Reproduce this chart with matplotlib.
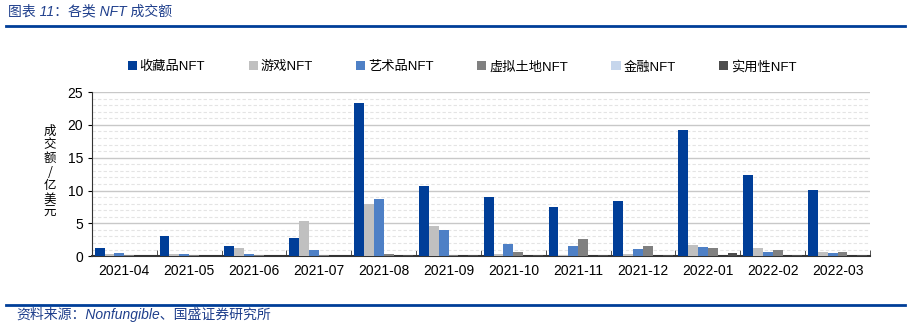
import numpy as np
import matplotlib.pyplot as plt
from matplotlib.lines import Line2D

plt.rcParams['font.family'] = ['Liberation Sans', 'Noto Sans CJK SC', 'DejaVu Sans']

# Monthly NFT trading volume by category (100M USD)
months = ["2021-04", "2021-05", "2021-06", "2021-07", "2021-08", "2021-09",
          "2021-10", "2021-11", "2021-12", "2022-01", "2022-02", "2022-03"]
collectibles = [1.2, 3.1, 1.5, 2.7, 23.3, 10.7, 9.0, 7.5, 8.4, 19.2, 12.4, 10.1]
games = [0.3, 0.3, 1.2, 5.4, 7.9, 4.6, 0.4, 0.2, 0.3, 1.7, 1.2, 0.6]
art = [0.5, 0.35, 0.3, 0.9, 8.7, 4.0, 1.8, 1.6, 1.1, 1.4, 0.65, 0.5]
land = [0.2, 0.1, 0.1, 0.1, 0.3, 0.2, 0.6, 2.6, 1.6, 1.2, 0.9, 0.6]
finance = [0.0, 0.0, 0.0, 0.0, 0.0, 0.0, 0.0, 0.0, 0.0, 0.05, 0.0, 0.0]
utility = [0.05, 0.05, 0.05, 0.05, 0.1, 0.1, 0.1, 0.1, 0.1, 0.5, 0.2, 0.1]

series = [
    ("收藏品NFT", collectibles, "#003E98"),
    ("游戏NFT", games, "#C0C0C0"),
    ("艺术品NFT", art, "#4E80C6"),
    ("虚拟土地NFT", land, "#808080"),
    ("金融NFT", finance, "#C6D6EC"),
    ("实用性NFT", utility, "#4D4D4D"),
]

fig = plt.figure(figsize=(9.1, 3.23), dpi=100)
ax = fig.add_axes([0.101, 0.207, 0.855, 0.508])

x = np.arange(len(months))
n = len(series)
w = 0.152
for i, (name, vals, col) in enumerate(series):
    ax.bar(x + (i - (n - 1) / 2) * w, vals, width=w, color=col, label=name, zorder=3)

ax.set_xlim(-0.5, len(months) - 0.5)
ax.set_ylim(0, 25)
ax.set_yticks(range(0, 26, 5))
ax.set_yticks(range(0, 26, 1), minor=True)
ax.set_xticks(x)
ax.set_xticklabels(months, fontsize=10)
ax.tick_params(axis='y', labelsize=10, length=3, which='major')
ax.tick_params(axis='y', which='minor', length=0)
ax.tick_params(axis='x', length=0, pad=6)
# group separators on x axis
ax.set_xticks(np.arange(-0.5, len(months), 1), minor=True)
ax.tick_params(axis='x', which='minor', direction='in', length=4, color='#333333')

ax.grid(axis='y', which='major', color='#C8C8C8', lw=1, zorder=0)
ax.grid(axis='y', which='minor', color='#E4E4E4', lw=0.8, ls=(0, (3, 2)), zorder=0)
ax.spines['right'].set_visible(False)
ax.spines['top'].set_visible(False)
ax.spines['left'].set_color('#333333')
ax.spines['bottom'].set_color('#333333')
ax.spines['bottom'].set_linewidth(1.5)

fig.legend(loc='center', bbox_to_anchor=(462 / 910, 1 - 67 / 323), ncol=6,
           frameon=False, fontsize=9.5, handlelength=0.7, handleheight=0.7,
           handletextpad=0.2, columnspacing=3.3)

fig.text(50 / 910, 1 - 172 / 323, "\n".join("成交额/亿美元"), ha='center', va='center',
         fontsize=9, linespacing=1.05, family=['Noto Sans CJK SC', 'DejaVu Sans'])

# header and footer
fig.text(8 / 910, 1 - 11 / 323, "图表 11：各类 NFT 成交额", ha='left', va='center',
         fontsize=10, style='italic', color='#1F3F8C')
fig.add_artist(Line2D([6 / 910, 905 / 910], [1 - 26 / 323] * 2, color='#003E98', lw=2))
fig.add_artist(Line2D([6 / 910, 905 / 910], [1 - 305 / 323] * 2, color='#003E98', lw=2))
fig.text(16 / 910, 1 - 314 / 323, "资料来源：Nonfungible、国盛证券研究所", ha='left', va='center',
         fontsize=10, style='italic', color='#1F3F8C')

fig.savefig("out.png", dpi=100)
